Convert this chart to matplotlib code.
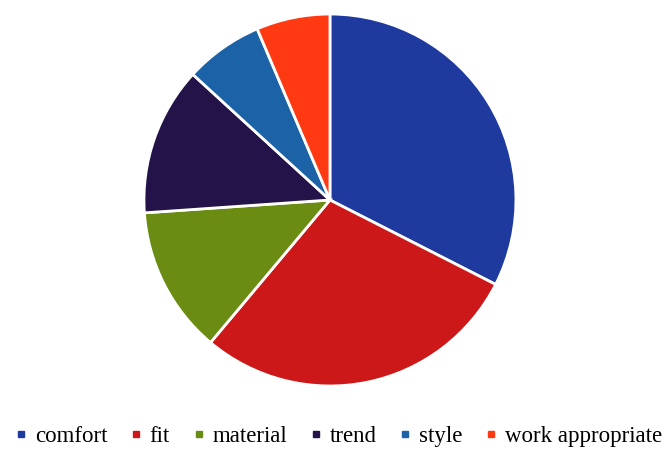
import matplotlib
matplotlib.use('Agg')
import matplotlib.pyplot as plt
from matplotlib.lines import Line2D

# share of answers (percent)
labels = ["comfort", "fit", "material", "trend", "style", "work appropriate"]
shares = [32.5, 28.6, 12.8, 12.9, 6.8, 6.4]
colors = ["#1f3a9e", "#cc1818", "#6a8c12", "#241349", "#1b62a6", "#ff3a12"]

fig = plt.figure(figsize=(6.69, 4.5), dpi=100)
ax = fig.add_axes([0.2152, 0.1422, 0.556, 0.8267])

ax.pie(shares, colors=colors, startangle=90, counterclock=False,
       wedgeprops=dict(edgecolor="white", linewidth=2))
ax.set_xlim(-1, 1)
ax.set_ylim(-1, 1)
ax.set_aspect("equal")

handles = [Line2D([], [], marker="s", linestyle="", markersize=5,
                  markerfacecolor=c, markeredgecolor=c) for c in colors]
fig.legend(handles, labels, loc="center", bbox_to_anchor=(0.506, 0.029),
           ncol=6, frameon=False, handlelength=0.5, handletextpad=0.35,
           columnspacing=1.0, borderpad=0.0,
           prop={"family": "Liberation Serif", "size": 16.5})

fig.savefig("out.png", dpi=100)
plt.close()
